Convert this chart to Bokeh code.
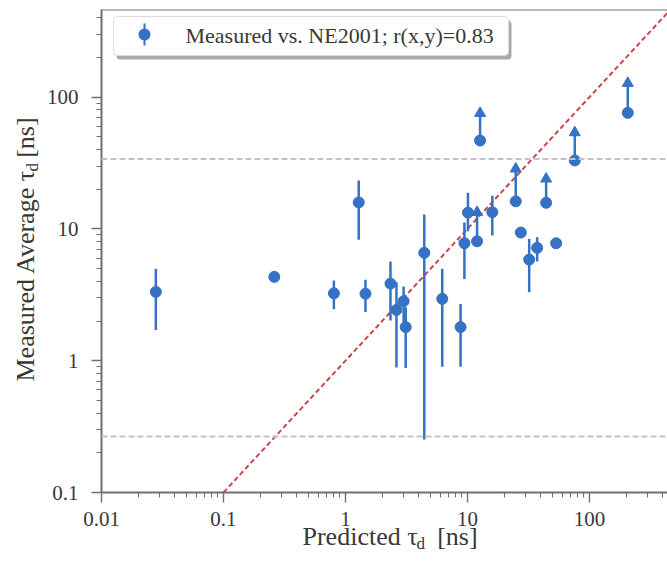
from bokeh.plotting import figure
from bokeh.models import FixedTicker, Span, BoxAnnotation, Label, ColumnDataSource
from bokeh.embed import file_html
from bokeh.resources import INLINE

NAN = float("nan")

# ---- data ----
PRED = [0.0279, 0.261, 0.804, 1.285, 1.46, 2.34, 2.62, 3.00, 3.12, 4.43,
        6.22, 8.79, 9.45, 10.1, 16.0, 27.4, 32.1, 37.3, 53.4]
MEAS = [3.33, 4.33, 3.25, 15.9, 3.23, 3.85, 2.43, 2.83, 1.80, 6.59,
        2.95, 1.80, 7.79, 13.3, 13.4, 9.40, 5.86, 7.19, 7.79]
MEAS_LO = [1.71, NAN, 2.46, 8.27, 2.34, 2.02, 0.89, 1.96, 0.88, 0.253,
           0.90, 0.90, 4.18, 9.6, 8.91, NAN, 3.31, 5.66, NAN]
MEAS_HI = [4.98, NAN, 4.07, 23.3, 4.12, 5.66, 3.94, 3.66, 2.55, 12.9,
           4.98, 2.70, 11.2, 18.8, 17.9, NAN, 8.41, 8.67, NAN]

# lower limits (drawn with upward arrows)
LIM_PRED = [12.0, 12.7, 24.9, 44.2, 75.9, 206.5]
LIM_MEAS = [8.07, 46.9, 16.2, 15.8, 33.1, 76.1]
LIM_ARROW = [13.4, 75.6, 28.6, 24.0, 53.9, 127.7]

THRESHOLDS = [34.0, 0.266]
ONE_TO_ONE = [0.1, 1000.0]

X_TICKS = [0.01, 0.1, 1.0, 10.0, 100.0]
X_TICK_LABELS = ["0.01", "0.1", "1", "10", "100"]
Y_TICKS = [0.1, 1.0, 10.0, 100.0]
Y_TICK_LABELS = ["0.1", "1", "10", "100"]
X_RANGE = (0.01, 437.0)
Y_RANGE = (0.1, 463.0)
LEGEND_LABEL = "Measured vs. NE2001; r(x,y)=0.83"
NB = "\u00a0"
X_LABEL = "Predicted \u03c4" + NB * 3 + "[ns]"
Y_LABEL = "Measured Average \u03c4" + NB * 2 + "[ns]"
SUB = "d"

# ---- style ----
BLUE = "#3571c5"
RED = "#c9474a"
SPINE = "#6c7079"
TXT = "#383838"
FONT = "Liberation Serif"

p = figure(width=667, height=564, x_axis_type="log", y_axis_type="log",
           x_range=X_RANGE, y_range=Y_RANGE, output_backend="svg",
           toolbar_location=None, min_border_left=101, min_border_right=0,
           min_border_top=5, min_border_bottom=72)
p.outline_line_color = None
p.xgrid.visible = False
p.ygrid.visible = False
p.background_fill_color = "white"
p.border_fill_color = "white"

minor = [m * 10.0 ** e for e in range(-2, 3) for m in range(2, 10)]
for ax, ticks, labels, standoff in ((p.xaxis[0], X_TICKS, X_TICK_LABELS, 9),
                                    (p.yaxis[0], Y_TICKS, Y_TICK_LABELS, 13)):
    ax.ticker = FixedTicker(ticks=ticks, minor_ticks=minor)
    ax.major_label_overrides = {t: l for t, l in zip(ticks, labels)}
    ax.axis_line_color = SPINE
    ax.axis_line_width = 2
    ax.major_tick_line_color = SPINE
    ax.major_tick_line_width = 1.4
    ax.minor_tick_line_color = SPINE
    ax.minor_tick_line_width = 1.1
    ax.major_tick_out = 10
    ax.major_tick_in = 0
    ax.minor_tick_out = 5
    ax.minor_tick_in = 0
    ax.major_label_text_font = FONT
    ax.major_label_text_font_size = "21px"
    ax.major_label_text_color = TXT
    ax.major_label_standoff = standoff
    ax.axis_label = None

# top spine
p.add_layout(Span(location=Y_RANGE[1], dimension="width", line_color=SPINE, line_width=2))

# threshold lines
for t in THRESHOLDS:
    p.add_layout(Span(location=t, dimension="width", line_color="#c3c3c3",
                      line_dash="6 3", line_width=2))

# 1:1 line
p.line(ONE_TO_ONE, ONE_TO_ONE, line_color=RED, line_width=2, line_dash="5 3")

src = ColumnDataSource(dict(x=PRED, y=MEAS, lo=MEAS_LO, hi=MEAS_HI))
p.segment(x0="x", y0="lo", x1="x", y1="hi", source=src, line_color=BLUE, line_width=2.5)

lim = ColumnDataSource(dict(x=LIM_PRED, y=LIM_MEAS, top=LIM_ARROW))
p.segment(x0="x", y0="y", x1="x", y1="top", source=lim, line_color=BLUE, line_width=2.5)
p.scatter(x="x", y="top", source=lim, marker="triangle", size=11,
          fill_color=BLUE, line_color=BLUE)

p.scatter(x="x", y="y", source=src, marker="circle", size=11,
          fill_color=BLUE, line_color=BLUE)
p.scatter(x="x", y="y", source=lim, marker="circle", size=11,
          fill_color=BLUE, line_color=BLUE)

# ---- legend (frame-relative screen units, y up) ----
def box(l, r, b, t, fill, line=None, radius=0, lw=1):
    return BoxAnnotation(left=l, right=r, bottom=b, top=t,
                         left_units="screen", right_units="screen",
                         bottom_units="screen", top_units="screen",
                         fill_color=fill, fill_alpha=1.0,
                         line_color=line, line_alpha=1.0 if line else 0.0,
                         line_width=lw, line_dash="solid", border_radius=radius)

p.add_layout(box(15, 410, 433, 472, "#a9a9a9", radius=4))
p.add_layout(box(12, 407, 437, 476, "white", line="#dddddd", radius=4))
p.add_layout(box(42, 44, 447, 469, BLUE))
p.add_layout(box(37, 49, 452, 464, BLUE, radius=6))
p.add_layout(Label(x=84, y=457, x_units="screen", y_units="screen", text=LEGEND_LABEL,
                   text_font=FONT, text_font_size="22px", text_color=TXT,
                   text_baseline="middle", text_align="left"))

# ---- axis labels with subscript (canvas units, y down from canvas top) ----
def lab(text, x, y, size, angle=0):
    return Label(x=x, y=y, x_units="canvas", y_units="canvas", text=text,
                 text_font=FONT, text_font_size=size, text_color=TXT,
                 text_baseline="middle", text_align="left",
                 angle=angle, angle_units="deg")

p.add_layout(lab(X_LABEL, 302, 536, "26px"), "below")
p.add_layout(lab(Y_LABEL, 25, 381, "26px", 90), "left")
p.add_layout(lab(SUB, 416, 543, "17px"), "left")
p.add_layout(lab(SUB, 32, 171, "17px", 90), "above")

open("out.html", "w").write(file_html(p, INLINE))
